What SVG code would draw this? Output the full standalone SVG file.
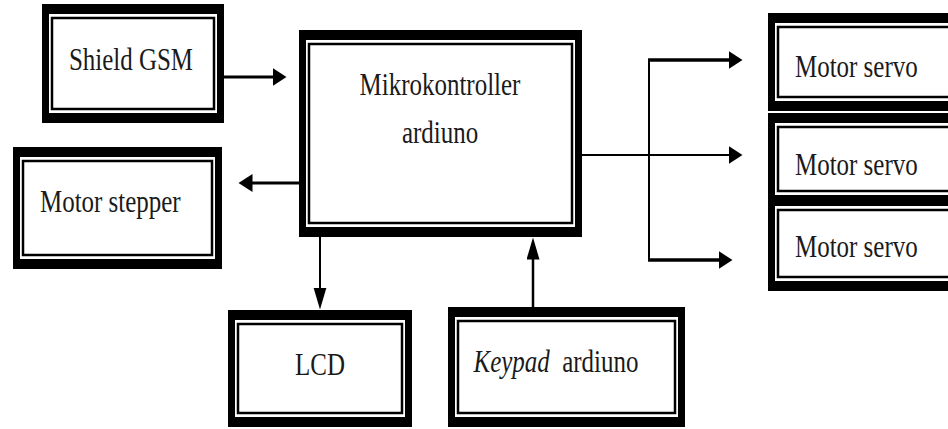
<svg xmlns="http://www.w3.org/2000/svg" width="948" height="429" viewBox="0 0 948 429">
<style>
.frame{fill:#000}
.gap{fill:#fff}
.inner{fill:#fff;stroke:#000;stroke-width:2.5}
.lbl{font-family:"Liberation Serif","Times New Roman",serif;font-size:32px;fill:#1a1a1a}
.mid{text-anchor:middle}
.conn{fill:none;stroke:#000}
</style>
<defs>
<marker id="ah" markerUnits="userSpaceOnUse" markerWidth="16" markerHeight="20" refX="0.5" refY="9" orient="auto">
<path d="M0,0 L14,9 L0,18 z" fill="#000"/>
</marker>
<marker id="av" markerUnits="userSpaceOnUse" markerWidth="24" markerHeight="14" refX="0.5" refY="6.5" orient="auto">
<path d="M0,0 L22,6.5 L0,13 z" fill="#000"/>
</marker>
</defs>
<rect width="948" height="429" fill="#fff"/>

<g id="shield-gsm">
<rect class="frame" x="42" y="4" width="182" height="119"/>
<rect class="gap" x="49" y="14" width="168" height="99"/>
<rect class="inner" x="52" y="18" width="162" height="91"/>
<text class="lbl mid" transform="translate(131,70) scale(0.78,1)">Shield GSM</text>
</g>

<g id="mikrokontroller">
<rect class="frame" x="299" y="30" width="283" height="207"/>
<rect class="gap" x="306" y="40" width="269" height="187"/>
<rect class="inner" x="309" y="44" width="263" height="179"/>
<text class="lbl mid" transform="translate(440,95) scale(0.78,1)">Mikrokontroller</text>
<text class="lbl mid" transform="translate(440,143) scale(0.78,1)">ardiuno</text>
</g>

<g id="motor-stepper">
<rect class="frame" x="13" y="147" width="209" height="122"/>
<rect class="gap" x="20" y="157" width="195" height="102"/>
<rect class="inner" x="23" y="161" width="189" height="94"/>
<text class="lbl" transform="translate(40,212) scale(0.78,1)">Motor stepper</text>
</g>

<g id="lcd">
<rect class="frame" x="228" y="310" width="184" height="117"/>
<rect class="gap" x="235" y="320" width="170" height="97"/>
<rect class="inner" x="238" y="324" width="164" height="89"/>
<text class="lbl mid" transform="translate(320,375) scale(0.78,1)">LCD</text>
</g>

<g id="keypad">
<rect class="frame" x="448" y="307" width="237" height="120"/>
<rect class="gap" x="455" y="317" width="223" height="100"/>
<rect class="inner" x="458" y="321" width="217" height="92"/>
<text class="lbl mid" transform="translate(556,372) scale(0.78,1)"><tspan font-style="italic">Keypad</tspan> <tspan dx="8">ardiuno</tspan></text>
</g>

<g id="servo-1">
<rect class="frame" x="768" y="13" width="200" height="98"/>
<rect class="gap" x="775" y="23" width="186" height="78"/>
<rect class="inner" x="778" y="27" width="180" height="70"/>
<text class="lbl" transform="translate(795,77) scale(0.78,1)">Motor servo</text>
</g>

<g id="servo-2">
<rect class="frame" x="768" y="113" width="200" height="92"/>
<rect class="gap" x="775" y="123" width="186" height="72"/>
<rect class="inner" x="778" y="127" width="180" height="64"/>
<text class="lbl" transform="translate(795,175) scale(0.78,1)">Motor servo</text>
</g>

<g id="servo-3">
<rect class="frame" x="768" y="196" width="200" height="95"/>
<rect class="gap" x="775" y="206" width="186" height="75"/>
<rect class="inner" x="778" y="210" width="180" height="67"/>
<text class="lbl" transform="translate(795,257) scale(0.78,1)">Motor servo</text>
</g>

<g id="connectors">
<path class="conn" d="M224,77 H273" stroke-width="3" marker-end="url(#ah)"/>
<path class="conn" d="M299,183 H252" stroke-width="3" marker-end="url(#ah)"/>
<path class="conn" d="M320,237 V288" stroke-width="2" marker-end="url(#av)"/>
<path class="conn" d="M533,307 V259" stroke-width="2.5" marker-end="url(#av)"/>
<path class="conn" d="M582,155 H729" stroke-width="2" marker-end="url(#ah)"/>
<path class="conn" d="M649,60 V260" stroke-width="2" stroke="#444"/>
<path class="conn" d="M648,60 H729" stroke-width="3.5" marker-end="url(#ah)"/>
<path class="conn" d="M648,260 H719" stroke-width="3.5" marker-end="url(#ah)"/>
</g>
</svg>
